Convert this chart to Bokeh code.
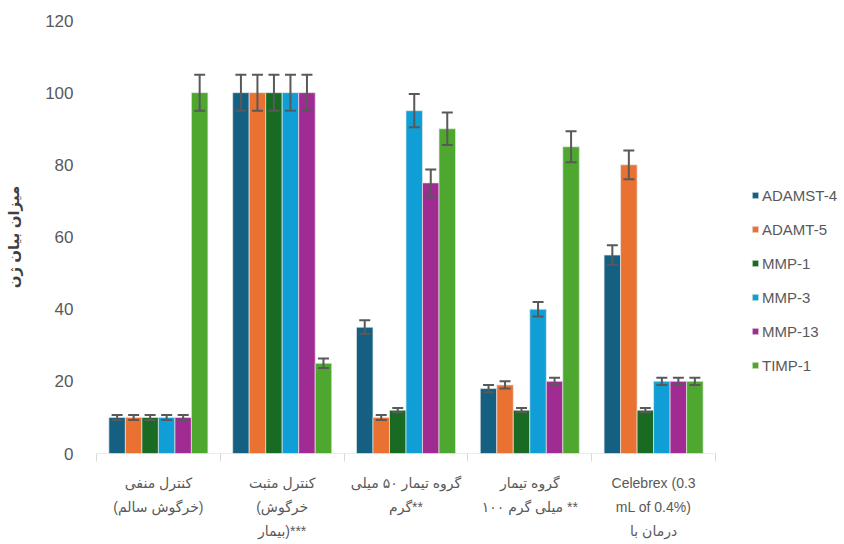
from bokeh.plotting import figure
from bokeh.models import (Range1d, FixedTicker, Legend, LegendItem, ColumnDataSource,
                          Whisker, TeeHead)
from bokeh.embed import file_html
from bokeh.resources import INLINE

# Groups (x-axis categories), one label line per list entry
groups = [
    ["کنترل منفی", "(خرگوش سالم)"],
    ["کنترل مثبت", "(خرگوش", "بیمار)***"],
    ["گروه تیمار ۵۰ میلی", "گرم**"],
    ["گروه تیمار", "۱۰۰ میلی گرم **"],
    ["Celebrex (0.3", "mL of 0.4%)", "درمان با"],
]

genes = ["ADAMST-4", "ADAMT-5", "MMP-1", "MMP-3", "MMP-13", "TIMP-1"]
colors = ["#156082", "#E97132", "#196B24", "#0F9ED5", "#A02B93", "#4EA72E"]

# Expression level per gene, one value per group
adamst4 = [10, 100, 35, 18, 55]
adamt5 = [10, 100, 10, 19, 80]
mmp1 = [10, 100, 12, 12, 12]
mmp3 = [10, 100, 95, 40, 20]
mmp13 = [10, 100, 75, 20, 20]
timp1 = [100, 25, 90, 85, 20]

# Error (±) per gene, one value per group
adamst4_err = [0.7, 5, 1.9, 1.0, 2.7]
adamt5_err = [0.7, 5, 0.7, 1.0, 4.0]
mmp1_err = [0.7, 5, 0.6, 0.6, 0.6]
mmp3_err = [0.7, 5, 4.6, 2.0, 1.0]
mmp13_err = [0.7, 5, 3.7, 1.0, 1.0]
timp1_err = [5, 1.3, 4.5, 4.3, 1.0]

y_ticks = [0, 20, 40, 60, 80, 100, 120]

series = [adamst4, adamt5, mmp1, mmp3, mmp13, timp1]
errors = [adamst4_err, adamt5_err, mmp1_err, mmp3_err, mmp13_err, timp1_err]

FONT = "'Liberation Sans', 'DejaVu Sans', sans-serif"
GRAY = "#595959"

# the frame runs on to the right edge so the legend can live inside it;
# the bar groups occupy the first 619 px of its 743 px width
W, H = 844, 544
LEFT, RIGHT, TOP, BOTTOM = 96, 5, 20, 91
frame_w = W - LEFT - RIGHT
groups_w = 619
ng = len(groups)
x_end = ng * frame_w / groups_w

p = figure(width=W, height=H, output_backend="svg", toolbar_location=None,
           x_range=Range1d(0, x_end), y_range=Range1d(0, 120),
           min_border_left=LEFT, min_border_right=RIGHT, min_border_top=TOP,
           min_border_bottom=BOTTOM)
p.outline_line_color = None
p.grid.grid_line_color = None
p.background_fill_color = "white"
p.border_fill_color = "white"

# category baseline, from the first to the last group boundary
p.segment(x0=[0], y0=[0], x1=[ng], y1=[0], line_color="#d9d9d9", line_width=1.2)

n = len(genes)
group_w = 0.8
bar_w = group_w / n

items = []
for i, (name, vals, errs, col) in enumerate(zip(genes, series, errors, colors)):
    xs = [g + 0.5 + (i - (n - 1) / 2) * bar_w for g in range(ng)]
    src = ColumnDataSource(dict(x=xs, top=vals,
                                upper=[v + e for v, e in zip(vals, errs)],
                                lower=[v - e for v, e in zip(vals, errs)]))
    r = p.vbar(x="x", top="top", width=bar_w, bottom=0, source=src,
               fill_color=col, line_color="#e6e6e6", line_width=0.7)
    w = Whisker(base="x", upper="upper", lower="lower", source=src,
                line_color=GRAY, line_width=2, level="overlay",
                upper_head=TeeHead(size=11, line_color=GRAY, line_width=2),
                lower_head=TeeHead(size=11, line_color=GRAY, line_width=2))
    p.add_layout(w)
    items.append(LegendItem(label=name, renderers=[r]))

# x axis: labels at group centres, tick marks at group boundaries
xa = p.xaxis[0]
xa.ticker = FixedTicker(ticks=[g + 0.5 for g in range(ng)],
                        minor_ticks=list(range(ng + 1)))
xa.major_label_overrides = {g + 0.5: "\n".join(lines) for g, lines in enumerate(groups)}
xa.major_tick_out = 0
xa.major_tick_in = 0
xa.minor_tick_out = 8
xa.minor_tick_in = 0
xa.minor_tick_line_color = "#d9d9d9"
xa.axis_line_color = None
xa.major_label_text_font = FONT
xa.major_label_text_font_size = "14px"
xa.major_label_text_color = GRAY
xa.major_label_text_line_height = 1.5
xa.major_label_standoff = 13

ya = p.yaxis[0]
ya.ticker = FixedTicker(ticks=y_ticks)
ya.axis_line_color = None
ya.major_tick_line_color = None
ya.minor_tick_line_color = None
ya.major_label_text_font = FONT
ya.major_label_text_font_size = "17px"
ya.major_label_text_color = GRAY
ya.major_label_standoff = 17
ya.axis_label = "میزان بیان ژن"
ya.axis_label_text_font = FONT
ya.axis_label_text_font_size = "15px"
ya.axis_label_text_font_style = "bold"
ya.axis_label_text_color = "#404040"
ya.axis_label_standoff = 20

# legend to the right of the groups, positioned relative to the frame
legend = Legend(items=items, location=(655, 78), orientation="vertical",
                glyph_width=8, glyph_height=8, label_height=20, spacing=14,
                label_standoff=3, padding=0, margin=0,
                border_line_color=None, background_fill_alpha=0,
                label_text_font=FONT, label_text_font_size="15px",
                label_text_color=GRAY)
p.add_layout(legend)

open("out.html", "w").write(file_html(p, INLINE))
